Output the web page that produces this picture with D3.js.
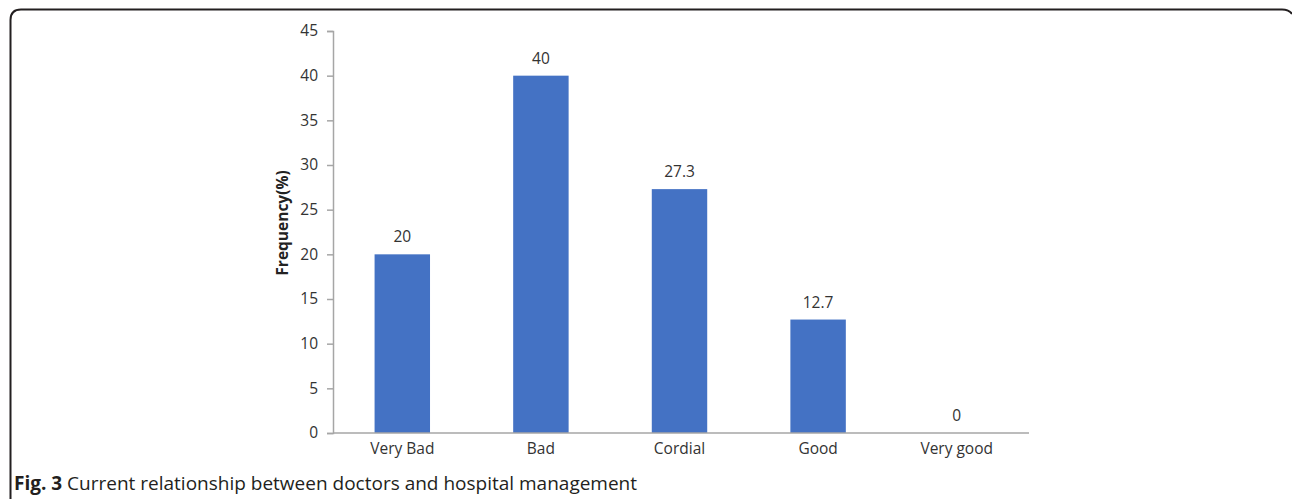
<!DOCTYPE html>
<html>
<head>
<meta charset="utf-8">
<script src="https://cdn.jsdelivr.net/npm/d3@7"></script>
<style>
  html, body { margin: 0; padding: 0; background: #fff; }
  svg { display: block; }
</style>
</head>
<body>
<svg id="chart" width="1292" height="499"></svg>
<script>
// data
const categories = ["Very Bad", "Bad", "Cordial", "Good", "Very good"];
const values     = [20, 40, 27.3, 12.7, 0];
const yTicks     = [0, 5, 10, 15, 20, 25, 30, 35, 40, 45];

const svg = d3.select("#chart");
const W = 1292, H = 499;

// frame (rounded top corners, open at the bottom/right)
svg.append("path")
  .attr("d", `M10.5,${H} L10.5,20 Q10.5,9.5 21,9.5 L1282,9.5 Q1289,9.5 1292,14`)
  .attr("fill", "none")
  .attr("stroke", "#231f20")
  .attr("stroke-width", 2);

const plot = { left: 333, right: 1026, top: 31, bottom: 433 };

const x = d3.scaleBand().domain(categories).range([plot.left, plot.right]).paddingInner(0.6).paddingOuter(0.3);
const y = d3.scaleLinear().domain([0, 45]).range([plot.bottom, plot.top]);

const font = "'Open Sans', 'DejaVu Sans', sans-serif";

// bars
svg.append("g")
  .selectAll("rect")
  .data(categories)
  .join("rect")
  .attr("x", d => x(d))
  .attr("width", x.bandwidth())
  .attr("y", (d, i) => y(values[i]))
  .attr("height", (d, i) => y(0) - y(values[i]))
  .attr("fill", "#4472c4");

// value labels
svg.append("g")
  .selectAll("text")
  .data(categories)
  .join("text")
  .attr("x", d => x(d) + x.bandwidth() / 2)
  .attr("y", (d, i) => y(values[i]) - 12)
  .attr("text-anchor", "middle")
  .attr("font-family", font)
  .attr("font-size", "15.5px")
  .attr("fill", "#333")
  .text((d, i) => values[i]);

// y axis
const yAxis = svg.append("g")
  .attr("transform", `translate(${plot.left},0)`)
  .call(d3.axisLeft(y).tickValues(yTicks).tickSize(6).tickPadding(9));
yAxis.select(".domain").attr("stroke", "#a6a6a6").attr("stroke-width", 1.5);
yAxis.selectAll(".tick line").attr("stroke", "#a6a6a6").attr("stroke-width", 1.5);
yAxis.selectAll(".tick text")
  .attr("font-family", font).attr("font-size", "15.5px").attr("fill", "#333");

// x axis line
const xAxis = svg.append("g")
  .attr("transform", `translate(0,${plot.bottom})`)
  .call(d3.axisBottom(x).tickSize(0));
xAxis.select(".domain").attr("stroke", "#a6a6a6").attr("stroke-width", 1.5)
  .attr("d", `M${plot.left},0H${plot.right + 3}`);
xAxis.selectAll(".tick text")
  .attr("y", 21).attr("dy", 0)
  .attr("font-family", font).attr("font-size", "15.5px").attr("fill", "#333");

// y axis title
svg.append("text")
  .attr("transform", `translate(288,223) rotate(-90)`)
  .attr("text-anchor", "middle")
  .attr("font-family", font)
  .attr("font-size", "15.5px")
  .attr("font-weight", "bold")
  .attr("fill", "#222")
  .text("Frequency(%)");

// caption
const cap = svg.append("text")
  .attr("x", 14).attr("y", 490)
  .attr("font-family", font)
  .attr("font-size", "19px")
  .attr("fill", "#231f20");
cap.append("tspan").attr("font-weight", "bold").text("Fig. 3");
cap.append("tspan").text(" Current relationship between doctors and hospital management");
</script>
</body>
</html>
